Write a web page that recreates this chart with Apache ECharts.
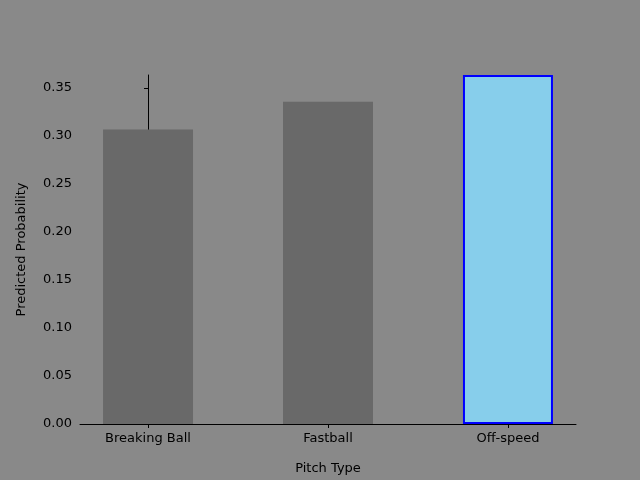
<!DOCTYPE html><html><head><meta charset="utf-8"><script src="https://cdn.jsdelivr.net/npm/echarts@6/dist/echarts.min.js"></script></head><body style="margin:0"><div id="c" style="width:640px;height:480px"></div><script>
const categories=["Breaking Ball","Fastball","Off-speed"];
const values=[0.3066,0.3355,0.3634];
const yTicks=[0,0.05,0.1,0.15,0.2,0.25,0.3,0.35];
const ch=echarts.init(document.getElementById('c'));
const lab={color:'#000',fontSize:13,fontFamily:'DejaVu Sans'};
ch.setOption({backgroundColor:'#898989',animation:false,
grid:{left:80,right:64,top:75,bottom:53},
xAxis:{type:'value',min:-0.378,max:2.378,name:'Pitch Type',nameLocation:'middle',nameGap:38,nameTextStyle:lab,
 axisLine:{lineStyle:{color:'#000'}},splitLine:{show:false},
 axisTick:{customValues:[0,1,2],length:4,lineStyle:{color:'#000'}},
 axisLabel:Object.assign({customValues:[0,1,2],margin:8,formatter:v=>categories[Math.round(v)]},lab)},
yAxis:{type:'value',min:0,max:0.3634,interval:0.05,name:'Predicted Probability',nameLocation:'middle',nameGap:52,nameTextStyle:lab,
 axisLine:{show:true,lineStyle:{color:'#000'}},splitLine:{show:false},
 axisTick:{show:true,customValues:yTicks,length:4,lineStyle:{color:'#000'}},
 axisLabel:Object.assign({customValues:yTicks,formatter:v=>v.toFixed(2)},lab)},
series:[{type:'bar',barWidth:90,data:values.map((v,i)=>({value:[i,v],itemStyle:i===2?{color:'#87CEEB',borderColor:'#0000ff',borderWidth:2}:{color:'#696969'}}))}]});
</script></body></html>
